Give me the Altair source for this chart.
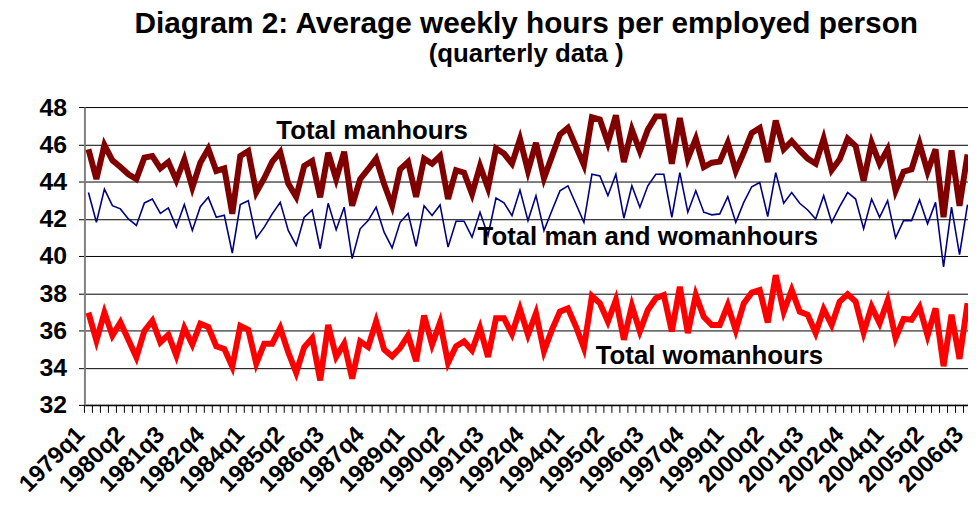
import altair as alt
import pandas as pd

n = 111
quarters = [f"{1979 + k // 4}q{k % 4 + 1}" for k in range(n)]

manhours = [45.73, 44.13, 45.96, 45.14, 44.78, 44.39, 44.13, 45.28, 45.37, 44.71,
            45.05, 44.07, 45.19, 43.68, 45.01, 45.76, 44.57, 44.71, 42.27, 45.37,
            45.64, 43.41, 44.18, 45.07, 45.58, 43.89, 43.18, 44.84, 45.10, 43.15,
            45.55, 44.13, 45.60, 42.70, 44.13, 44.66, 45.23, 43.86, 42.70, 44.66,
            45.05, 43.18, 45.23, 44.96, 45.37, 43.06, 44.61, 44.48, 43.33, 44.84,
            43.65, 45.78, 45.50, 44.96, 46.28, 44.57, 46.08, 44.18, 45.35, 46.53,
            46.88, 45.89, 44.89, 47.45, 47.33, 46.08, 47.56, 45.05, 46.79, 45.64,
            46.79, 47.50, 47.50, 44.96, 47.41, 45.23, 46.30, 44.78, 45.01, 45.07,
            46.08, 44.57, 45.55, 46.61, 46.88, 45.05, 47.27, 45.73, 46.17, 45.67,
            45.23, 44.96, 46.31, 44.61, 45.19, 46.30, 45.90, 44.04, 46.08, 44.96,
            45.73, 43.50, 44.53, 44.66, 46.03, 44.53, 45.73, 42.08, 45.67, 42.70,
            45.46]

total_hours = [43.41, 41.81, 43.59, 42.70, 42.53, 41.99, 41.64, 42.85, 43.06, 42.29,
               42.58, 41.55, 42.76, 41.37, 42.65, 43.15, 42.08, 42.19, 40.16, 42.76,
               42.97, 40.96, 41.55, 42.26, 42.88, 41.37, 40.57, 42.08, 42.47, 40.39,
               42.83, 41.41, 42.62, 39.86, 41.46, 41.90, 42.62, 41.28, 40.43, 41.81,
               42.29, 40.52, 42.70, 42.17, 42.74, 40.48, 41.87, 41.87, 41.01, 42.35,
               41.10, 43.11, 42.85, 42.17, 43.54, 41.90, 43.24, 41.37, 42.44, 43.50,
               43.77, 42.79, 41.81, 44.39, 44.30, 43.24, 44.39, 42.03, 43.77, 42.62,
               43.77, 44.39, 44.39, 42.08, 44.48, 42.35, 43.50, 42.35, 42.21, 42.26,
               43.18, 41.81, 42.88, 43.72, 43.95, 42.12, 44.48, 42.83, 43.41, 42.83,
               42.47, 41.99, 43.24, 41.81, 42.65, 43.41, 43.06, 41.46, 43.06, 42.08,
               42.97, 40.98, 41.90, 41.90, 43.01, 41.73, 42.88, 39.41, 42.62, 40.07,
               42.76]

womanhours = [36.96, 35.45, 36.96, 35.72, 36.43, 35.50, 34.56, 35.98, 36.52, 35.36,
              35.77, 34.65, 36.13, 35.24, 36.36, 36.18, 35.15, 35.01, 34.05, 36.25,
              36.04, 34.22, 35.29, 35.29, 36.13, 34.83, 33.73, 35.10, 35.59, 33.32,
              36.30, 34.58, 35.29, 33.41, 35.41, 35.11, 36.48, 34.97, 34.61, 35.06,
              35.73, 34.35, 36.80, 35.24, 36.43, 34.26, 35.15, 35.41, 34.93, 36.13,
              34.58, 36.66, 36.66, 35.81, 37.15, 35.77, 36.93, 34.88, 36.04, 37.01,
              37.19, 36.21, 35.06, 37.85, 37.46, 36.48, 37.64, 35.50, 37.32, 35.95,
              37.10, 37.73, 37.90, 35.95, 38.35, 35.86, 37.90, 36.73, 36.29, 36.29,
              37.36, 36.00, 37.45, 38.03, 38.17, 36.43, 38.97, 37.01, 38.17, 37.01,
              36.84, 35.86, 37.14, 36.30, 37.55, 37.94, 37.55, 35.89, 37.28, 36.39,
              37.60, 35.59, 36.62, 36.57, 37.25, 35.72, 37.19, 34.08, 36.84, 34.47,
              37.46]

y_ticks = [32, 34, 36, 38, 40, 42, 44, 46, 48]
label_idx = list(range(0, n, 5))
tick_labels = [quarters[k] for k in label_idx]

ann_text = ["Total manhours", "Total man and womanhours", "Total womanhours"]
ann_idx = [35.5, 70.0, 77.7]
ann_val = [46.7, 41.0, 34.65]

FONT = "Liberation Sans"

df = pd.DataFrame({
    "idx": list(range(n)) * 3,
    "quarter": quarters * 3,
    "series": ["man"] * n + ["total"] * n + ["woman"] * n,
    "value": manhours + total_hours + womanhours,
})
ticks_df = pd.DataFrame({"idx": [k - 0.5 for k in range(n + 1)]})
ann_df = pd.DataFrame({"idx": ann_idx, "value": ann_val, "text": ann_text})

xscale = alt.Scale(domain=[-0.5, 110.06], nice=False, zero=False)
yscale = alt.Scale(domain=[32, 48], nice=False, zero=False)

label_expr = "[" + ",".join(f"'{t}'" for t in tick_labels) + "][round(datum.value / 5)]"

xaxis = alt.Axis(values=label_idx, labelExpr=label_expr, labelAngle=315,
                 labelAlign="right", labelBaseline="middle", labelFontSize=24,
                 labelFont=FONT, labelFontWeight="bold", labelColor="black",
                 labelOverlap=False, labelFlush=False, labelBound=False,
                 labelPadding=26, labelOffset=-8,
                 ticks=False, grid=False, domainColor="black", domainWidth=1.5,
                 title=None)
yaxis = alt.Axis(values=y_ticks, grid=True, gridColor="black", gridWidth=1,
                 domainColor="#808080", domainWidth=2, tickColor="black",
                 tickSize=6, labelFontSize=25, labelFont=FONT, labelFontWeight="bold",
                 labelColor="black", labelPadding=12, labelOverlap=False,
                 title=None)

X = alt.X("idx:Q", scale=xscale, axis=xaxis)
Y = alt.Y("value:Q", scale=yscale, axis=yaxis)

base = alt.Chart(df)

man_line = base.transform_filter(alt.datum.series == "man").mark_line(
    color="#800000", strokeWidth=6, clip=True).encode(x=X, y=Y)
total_line = base.transform_filter(alt.datum.series == "total").mark_line(
    color="#000080", strokeWidth=1.6, clip=True).encode(x=X, y=Y)
woman_line = base.transform_filter(alt.datum.series == "woman").mark_line(
    color="#FF0000", strokeWidth=6, clip=True).encode(x=X, y=Y)

tick_rules = alt.Chart(ticks_df).mark_rule(color="black", strokeWidth=1).encode(
    x=X, y=alt.value(300), y2=alt.value(308))

labels = alt.Chart(ann_df).mark_text(font=FONT, fontWeight="bold", fontSize=26,
                                     color="black", align="center",
                                     baseline="middle").encode(
    x=X, y=Y, text="text:N")

chart = alt.layer(man_line, total_line, woman_line, tick_rules, labels).properties(
    width=890, height=300,
    title=alt.TitleParams(text="Diagram 2: Average weekly hours per employed person",
                          subtitle="(quarterly data )", font=FONT, fontSize=30,
                          fontWeight="bold", subtitleFont=FONT, subtitleFontSize=26,
                          subtitleFontWeight="bold", subtitleColor="black",
                          color="black", anchor="middle", offset=28,
                          subtitlePadding=3),
    autosize=alt.AutoSizeParams(type="none"),
    padding={"left": 77, "top": 98, "right": 0, "bottom": 92},
).configure_view(strokeWidth=0).configure(background="white")

chart.save("out.html", embed_options={"renderer": "svg", "actions": False})
